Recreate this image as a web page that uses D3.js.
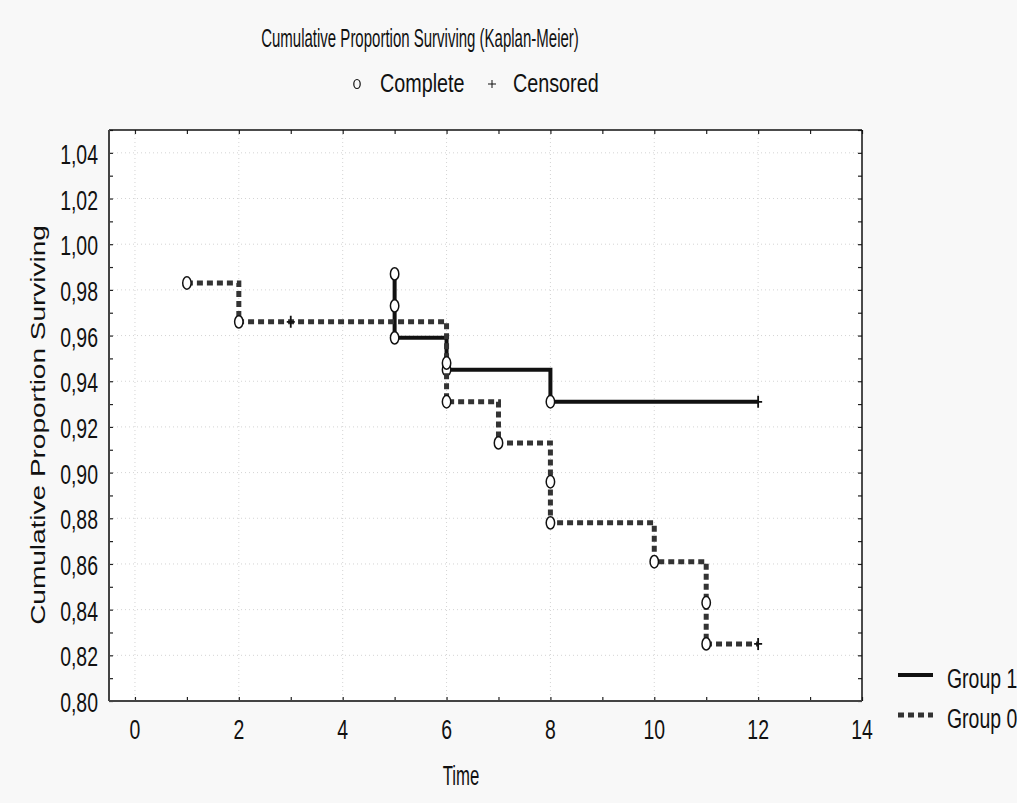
<!DOCTYPE html>
<html>
<head>
<meta charset="utf-8">
<script src="https://cdn.jsdelivr.net/npm/d3@7"></script>
<style>
  body { margin: 0; background: #f8f8f8; }
  text { font-family: "Liberation Sans", Arial, sans-serif; fill: #111; }
</style>
</head>
<body>
<div id="chart"></div>
<script>
// Kaplan-Meier estimates
const group1Time = [5, 5, 5, 6, 8, 12];
const group1Surv = [0.987, 0.973, 0.959, 0.945, 0.931, 0.931];
const group1Censored = [0, 0, 0, 0, 0, 1];

const group0Time = [1, 2, 3, 6, 6, 7, 8, 8, 10, 11, 11, 12];
const group0Surv = [0.983, 0.966, 0.966, 0.948, 0.931, 0.913, 0.896, 0.878, 0.861, 0.843, 0.825, 0.825];
const group0Censored = [0, 0, 1, 0, 0, 0, 0, 0, 0, 0, 0, 1];

const xTicks = [0, 2, 4, 6, 8, 10, 12, 14];
const yTicks = [0.80, 0.82, 0.84, 0.86, 0.88, 0.90, 0.92, 0.94, 0.96, 0.98, 1.00, 1.02, 1.04];
const legendNames = ["Group 1", "Group 0"];

const width = 1017, height = 803;
const margin = { top: 130, right: 155, bottom: 102, left: 109 };
const innerWidth = width - margin.left - margin.right;
const innerHeight = height - margin.top - margin.bottom;

const svg = d3.select("#chart").append("svg")
    .attr("width", width)
    .attr("height", height);

svg.append("rect").attr("width", width).attr("height", height).attr("fill", "#f8f8f8");

// text squeezed sideways, like the original
function label(x, y, txt, size, sx, anchor) {
    const t = svg.append("text")
        .attr("x", x).attr("y", y)
        .attr("text-anchor", anchor || "start")
        .style("font-size", size + "px")
        .text(txt);
    const len = t.node().getComputedTextLength();
    t.attr("textLength", len * sx).attr("lengthAdjust", "spacingAndGlyphs");
    return t;
}

const x = d3.scaleLinear().domain([-0.5, 14]).range([0, innerWidth]);
const y = d3.scaleLinear().domain([0.80, 1.05]).range([innerHeight, 0]);

const g = svg.append("g").attr("transform", `translate(${margin.left},${margin.top})`);

g.append("rect")
    .attr("width", innerWidth)
    .attr("height", innerHeight)
    .attr("fill", "#fff");

// dotted grid
g.append("g").selectAll("line")
    .data(xTicks.filter(d => d < 14))
    .join("line")
    .attr("x1", d => x(d)).attr("x2", d => x(d))
    .attr("y1", 0).attr("y2", innerHeight)
    .attr("stroke", "#d4d4d4").attr("stroke-dasharray", "1,3");

g.append("g").selectAll("line")
    .data(yTicks)
    .join("line")
    .attr("x1", 0).attr("x2", innerWidth)
    .attr("y1", d => y(d)).attr("y2", d => y(d))
    .attr("stroke", "#d4d4d4").attr("stroke-dasharray", "1,3");

// ticks on all four sides, pointing inward
const xMinor = d3.range(0, 15);
const yMinor = d3.range(80, 106).map(v => v / 100);

function styleAxis(sel) {
    sel.select(".domain").remove();
    sel.selectAll("line").attr("stroke", "#222").attr("stroke-width", 1.2);
}

g.append("g").attr("transform", `translate(0,${innerHeight})`)
    .call(d3.axisBottom(x).tickValues(xMinor).tickSize(-4).tickFormat(""))
    .call(styleAxis);
g.append("g")
    .call(d3.axisTop(x).tickValues(xMinor).tickSize(-4).tickFormat(""))
    .call(styleAxis);
g.append("g")
    .call(d3.axisLeft(y).tickValues(yMinor).tickSize(-4).tickFormat(""))
    .call(styleAxis);
g.append("g").attr("transform", `translate(${innerWidth},0)`)
    .call(d3.axisRight(y).tickValues(yMinor).tickSize(-4).tickFormat(""))
    .call(styleAxis);

// frame
g.append("line").attr("x1", 0).attr("x2", innerWidth).attr("y1", 0).attr("y2", 0)
    .attr("stroke", "#111").attr("stroke-width", 1.5);
g.append("line").attr("x1", innerWidth).attr("x2", innerWidth).attr("y1", 0).attr("y2", innerHeight)
    .attr("stroke", "#111").attr("stroke-width", 1.5);
g.append("line").attr("x1", 0).attr("x2", 0).attr("y1", 0).attr("y2", innerHeight)
    .attr("stroke", "#444").attr("stroke-width", 2);
g.append("line").attr("x1", 0).attr("x2", innerWidth).attr("y1", innerHeight).attr("y2", innerHeight)
    .attr("stroke", "#444").attr("stroke-width", 2);

// tick labels
const fmt = d => d3.format(".2f")(d).replace(".", ",");
yTicks.forEach(d => label(98, margin.top + y(d) + 11, fmt(d), 27, 0.72, "end"));
xTicks.forEach(d => label(margin.left + x(d), 739, d, 27, 0.72, "middle"));

// survival curves
const step = d3.line().x(d => x(d[0])).y(d => y(d[1])).curve(d3.curveStepAfter);

function drawGroup(times, surv, cens, color, widthPx, dash) {
    const pts = times.map((t, i) => [t, surv[i], cens[i]]);
    g.append("path")
        .datum(pts)
        .attr("d", step)
        .attr("fill", "none")
        .attr("stroke", color)
        .attr("stroke-width", widthPx)
        .attr("stroke-dasharray", dash);

    g.append("g").selectAll("ellipse")
        .data(pts.filter(d => !d[2]))
        .join("ellipse")
        .attr("cx", d => x(d[0])).attr("cy", d => y(d[1]))
        .attr("rx", 4.2).attr("ry", 6.2)
        .attr("fill", "#fff").attr("stroke", "#111").attr("stroke-width", 1.5);

    g.append("g").selectAll("path")
        .data(pts.filter(d => d[2]))
        .join("path")
        .attr("d", d => `M${x(d[0]) - 4},${y(d[1])}h8M${x(d[0])},${y(d[1]) - 6}v12`)
        .attr("stroke", "#111").attr("stroke-width", 1.8);
}

drawGroup(group1Time, group1Surv, group1Censored, "#111", 4, null);
drawGroup(group0Time, group0Surv, group0Censored, "#333", 5, "6,4");

// titles
label(420, 47, "Cumulative Proportion Surviving (Kaplan-Meier)", 25, 0.6, "middle");
svg.append("ellipse").attr("cx", 357).attr("cy", 84).attr("rx", 3.2).attr("ry", 4.5)
    .attr("fill", "none").attr("stroke", "#111").attr("stroke-width", 1.2);
label(380, 92, "Complete", 25, 0.79, "start");
svg.append("path").attr("d", "M488,84h8M492,80v8").attr("stroke", "#111").attr("stroke-width", 1);
label(513, 92, "Censored", 25, 0.79, "start");

label(461, 785, "Time", 27, 0.62, "middle");

// rotated axis title: glyphs are squeezed across their height
svg.append("text")
    .attr("transform", "translate(45,425) scale(0.75,1) rotate(-90)")
    .attr("text-anchor", "middle")
    .style("font-size", "28px")
    .text("Cumulative Proportion Surviving");

// legend
legendNames.forEach((name, i) => {
    const ly = 675 + i * 40;
    svg.append("line")
        .attr("x1", 898).attr("x2", 933).attr("y1", ly).attr("y2", ly)
        .attr("stroke", i === 0 ? "#111" : "#333")
        .attr("stroke-width", i === 0 ? 4 : 5)
        .attr("stroke-dasharray", i === 0 ? null : "6,4");
    label(947, ly + 13, name, 27, 0.72, "start");
});
</script>
</body>
</html>
